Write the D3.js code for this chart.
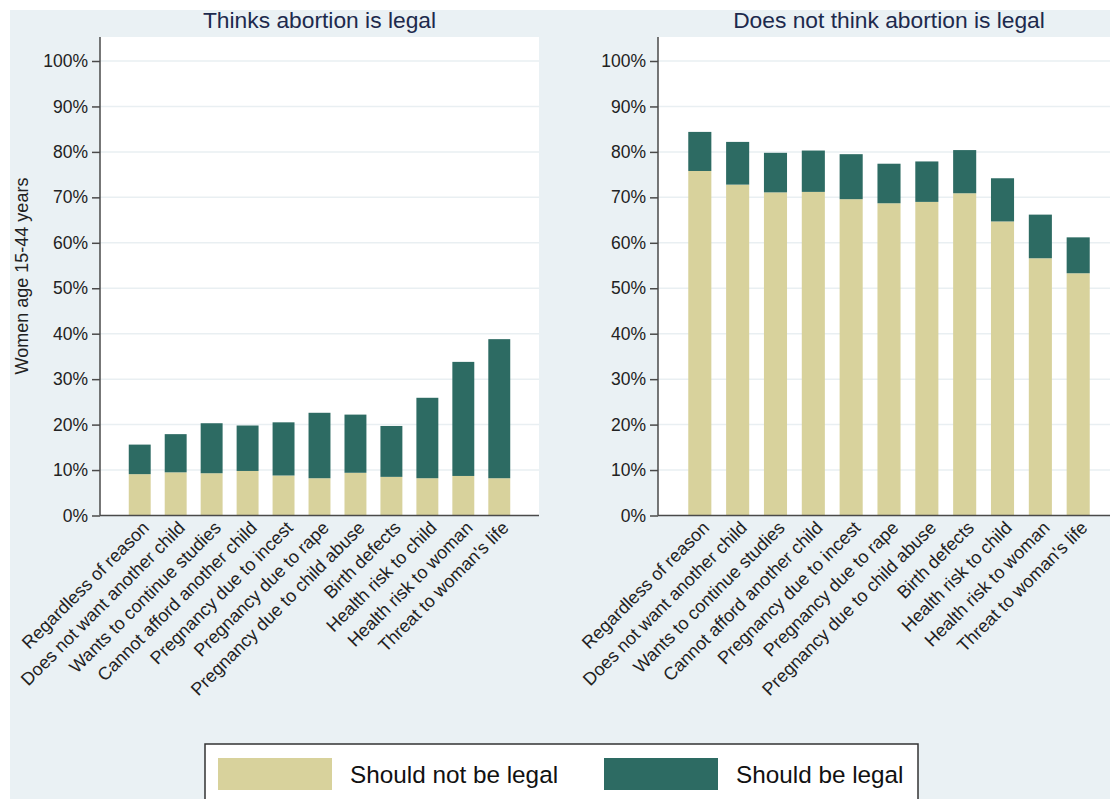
<!DOCTYPE html>
<html>
<head>
<meta charset="utf-8">
<script src="https://cdn.jsdelivr.net/npm/d3@7"></script>
<style>
  body { margin: 0; background: #fff; }
  text { font-family: "Liberation Sans", Arial, sans-serif; }
</style>
</head>
<body>
<script>
const categories = [
  "Regardless of reason", "Does not want another child", "Wants to continue studies",
  "Cannot afford another child", "Pregnancy due to incest", "Pregnancy due to rape",
  "Pregnancy due to child abuse", "Birth defects", "Health risk to child",
  "Health risk to woman", "Threat to woman's life"
]
const seriesNames = ["Should not be legal", "Should be legal"]
const panelTitles = ["Thinks abortion is legal", "Does not think abortion is legal"]

// percent of women, "should not be legal" part and "should be legal" part
const thinksNot = [9.1, 9.5, 9.3, 9.8, 8.8, 8.2, 9.4, 8.5, 8.2, 8.7, 8.2]
const thinksYes = [6.5, 8.4, 11.0, 10.0, 11.7, 14.4, 12.8, 11.2, 17.7, 25.1, 30.6]
const notThinksNot = [75.8, 72.8, 71.1, 71.2, 69.6, 68.7, 69.0, 70.9, 64.7, 56.6, 53.3]
const notThinksYes = [8.6, 9.4, 8.7, 9.1, 9.9, 8.7, 8.9, 9.5, 9.5, 9.6, 7.9]

const yTicks = [0, 10, 20, 30, 40, 50, 60, 70, 80, 90, 100]
const colors = ["#d8d29c", "#2d6b63"]

const width = 1110
const height = 799
const plotTop = 37
const plotBottom = 515.5

const svg = d3.select("body").append("svg")
    .attr("width", width)
    .attr("height", height)

// panel background
svg.append("rect")
    .attr("x", 10).attr("y", 10)
    .attr("width", width).attr("height", height)
    .attr("fill", "#eaf1f4")

const y = d3.scaleLinear().domain([0, 100]).range([plotBottom, 61])

function drawPanel(x0, x1, title, notVals, yesVals, yTitle) {
  const g = svg.append("g")

  const rows = categories.map(function (c, i) {
    return {cat: c, not: notVals[i], yes: yesVals[i]}
  })
  const stacked = d3.stack().keys(["not", "yes"])(rows)

  const x = d3.scaleBand()
      .domain(categories)
      .range([x0, x1])
      .paddingInner(0.39)
      .paddingOuter(0.8)

  g.append("rect")
      .attr("x", x0).attr("y", plotTop)
      .attr("width", x1 - x0).attr("height", plotBottom - plotTop)
      .attr("fill", "#fff")

  // gridlines
  g.selectAll(".grid")
    .data(yTicks.filter(function (t) { return t > 0 }))
    .enter().append("line")
      .attr("x1", x0).attr("x2", x1)
      .attr("y1", function (d) { return y(d) })
      .attr("y2", function (d) { return y(d) })
      .attr("stroke", "#e9eff2")
      .attr("stroke-width", 1.5)

  g.selectAll(".series")
    .data(stacked)
    .enter().append("g")
      .attr("fill", function (d, i) { return colors[i] })
    .selectAll("rect")
    .data(function (d) { return d })
    .enter().append("rect")
      .attr("x", function (d) { return x(d.data.cat) })
      .attr("width", x.bandwidth())
      .attr("y", function (d) { return y(d[1]) })
      .attr("height", function (d) { return y(d[0]) - y(d[1]) })

  // y axis
  const yAxis = g.append("g")
      .attr("transform", `translate(${x0},0)`)
      .call(d3.axisLeft(y).tickValues(yTicks).tickSize(8).tickPadding(4)
        .tickFormat(function (d) { return d + "%" }))
  yAxis.select(".domain").remove()
  yAxis.selectAll(".tick line").attr("stroke", "#4a4a4a").attr("stroke-width", 1.5)
  yAxis.selectAll("text").attr("font-size", "17.5px").attr("fill", "#222")

  g.append("line")
      .attr("x1", x0).attr("x2", x0)
      .attr("y1", plotTop).attr("y2", plotBottom)
      .attr("stroke", "#4a4a4a").attr("stroke-width", 1.5)
  g.append("line")
      .attr("x1", x0).attr("x2", x1)
      .attr("y1", plotBottom).attr("y2", plotBottom)
      .attr("stroke", "#4a4a4a").attr("stroke-width", 1.5)

  // x labels, rotated
  g.selectAll(".xlab")
    .data(categories)
    .enter().append("text")
      .attr("transform", function (d) {
        return `translate(${x(d) + x.bandwidth() / 2 + 6},${plotBottom + 9}) rotate(-45)`
      })
      .attr("text-anchor", "end")
      .attr("dy", "0.35em")
      .attr("font-size", "18px")
      .attr("fill", "#222")
      .text(function (d) { return d })

  g.append("text")
      .attr("x", (x0 + x1) / 2)
      .attr("y", 28)
      .attr("text-anchor", "middle")
      .attr("font-size", "22.8px")
      .attr("fill", "#1d2a4d")
      .text(title)

  if (yTitle) {
    g.append("text")
      .attr("transform", `translate(28,276) rotate(-90)`)
      .attr("text-anchor", "middle")
      .attr("font-size", "18px")
      .attr("fill", "#222")
      .text(yTitle)
  }
}

drawPanel(100, 539, panelTitles[0], thinksNot, thinksYes, "Women age 15-44 years")
drawPanel(658, 1120, panelTitles[1], notThinksNot, notThinksYes, null)

// legend
const legend = svg.append("g")
legend.append("rect")
    .attr("x", 205).attr("y", 744)
    .attr("width", 713).attr("height", 80)
    .attr("fill", "#fff")
    .attr("stroke", "#333")
    .attr("stroke-width", 1.5)

const legendItems = legend.selectAll(".item")
  .data(seriesNames)
  .enter().append("g")
    .attr("transform", function (d, i) { return `translate(${218 + i * 386},0)` })

legendItems.append("rect")
    .attr("x", 0).attr("y", 758)
    .attr("width", 114).attr("height", 32)
    .attr("fill", function (d, i) { return colors[i] })

legendItems.append("text")
    .attr("x", 132).attr("y", 783)
    .attr("font-size", "24.3px")
    .attr("fill", "#111")
    .text(function (d) { return d })
</script>
</body>
</html>
